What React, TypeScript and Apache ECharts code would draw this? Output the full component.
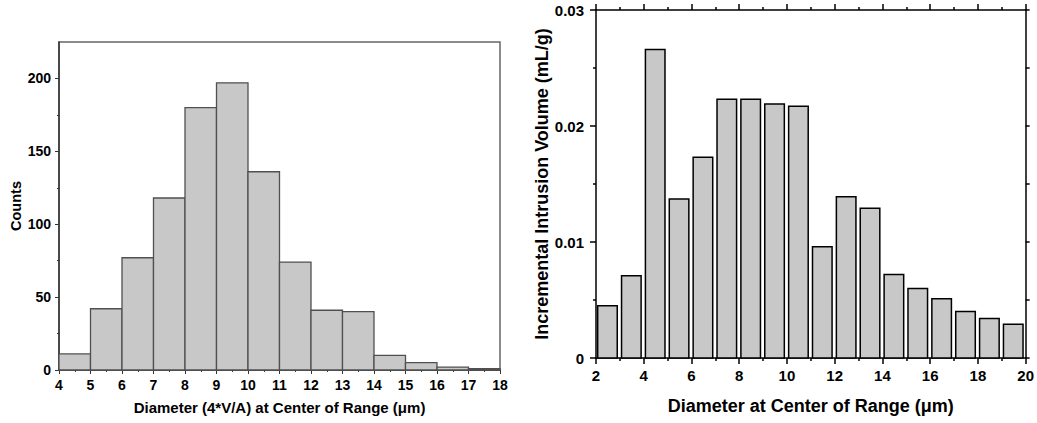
import React, { useEffect, useRef } from "react";
import * as echarts from "echarts";

// Left histogram: bin edges and counts
const leftBinStarts = [4, 5, 6, 7, 8, 9, 10, 11, 12, 13, 14, 15, 16, 17];
const leftCounts = [11, 42, 77, 118, 180, 197, 136, 74, 41, 40, 10, 5, 2, 1];
const leftYMajor = [0, 50, 100, 150, 200];
const leftYMinor = [25, 75, 125, 175];

// Right chart: bin starts and incremental intrusion volumes
const rightBinStarts = [2, 3, 4, 5, 6, 7, 8, 9, 10, 11, 12, 13, 14, 15, 16, 17, 18, 19];
const rightVolumes = [
  0.0045, 0.0071, 0.0266, 0.0137, 0.0173, 0.0223, 0.0223, 0.0219, 0.0217,
  0.0096, 0.0139, 0.0129, 0.0072, 0.006, 0.0051, 0.004, 0.0034, 0.0029,
];

const FONT = "Liberation Sans";

export default function App() {
  const ref = useRef<HTMLDivElement>(null);
  useEffect(() => {
    if (!ref.current) return;
    const chart = echarts.init(ref.current, undefined, { renderer: "svg" });
    const leftData = leftBinStarts.map((s, i) => [s, s + 1, leftCounts[i]]);
    const rightData = rightBinStarts.map((s, i) => [s + 0.07, s + 0.89, rightVolumes[i]]);
    const lbl = (size: number) => ({
      color: "#000",
      fontFamily: FONT,
      fontWeight: "bold" as const,
      fontSize: size,
    });
    const rectItem = (fill: string, stroke: string, lw: number) => (params: any, api: any) => {
      const p0 = api.coord([api.value(0), 0]);
      const p1 = api.coord([api.value(1), api.value(2)]);
      return {
        type: "rect",
        shape: { x: p0[0], y: p1[1], width: p1[0] - p0[0], height: p0[1] - p1[1] },
        style: { fill, stroke, lineWidth: lw },
      };
    };
    const blackLine = { show: true, onZero: false, lineStyle: { color: "#000", width: 1.5 } };
    const blackTick = (len: number) => ({ show: true, inside: false, length: len, lineStyle: { color: "#000", width: 1.5 } });
    chart.setOption({
      animation: false,
      grid: [
        { left: 59, right: 537, top: 42, bottom: 53, show: true, borderColor: "#666", borderWidth: 1.5, backgroundColor: "transparent" },
        { left: 596, right: 8, top: 10, bottom: 65 },
      ],
      xAxis: [
        {
          gridIndex: 0, type: "value", position: "bottom", min: 4, max: 18, interval: 1,
          axisLine: { show: true, onZero: false, lineStyle: { color: "#333", width: 1.5 } },
          axisTick: { show: true, inside: false, length: 4, lineStyle: { color: "#333" } },
          minorTick: { show: true, splitNumber: 2, length: 2, lineStyle: { color: "#333" } },
          splitLine: { show: false },
          axisLabel: { ...lbl(14), margin: 8 },
          name: "Diameter (4*V/A) at Center of Range (\u03bcm)", nameLocation: "middle", nameGap: 30,
          nameTextStyle: lbl(15),
        },
        {
          gridIndex: 1, type: "value", position: "bottom", min: 2, max: 20, interval: 2,
          axisLine: blackLine,
          axisTick: blackTick(6),
          minorTick: { show: true, splitNumber: 2, length: 3, lineStyle: { color: "#000", width: 1.5 } },
          splitLine: { show: false },
          axisLabel: { ...lbl(15), margin: 10 },
          name: "Diameter at Center of Range (\u03bcm)", nameLocation: "middle", nameGap: 39,
          nameTextStyle: lbl(18),
        },
        {
          gridIndex: 1, type: "value", position: "top", min: 2, max: 20, interval: 2,
          axisLine: blackLine,
          axisTick: blackTick(6),
          minorTick: { show: true, splitNumber: 2, length: 3, lineStyle: { color: "#000", width: 1.5 } },
          splitLine: { show: false },
          axisLabel: { show: false },
        },
      ],
      yAxis: [
        {
          gridIndex: 0, type: "value", position: "left", min: 0, max: 225, interval: 25,
          axisLine: { show: true, onZero: false, lineStyle: { color: "#333", width: 1.5 } },
          axisTick: { show: true, inside: false, length: 4, customValues: leftYMajor, lineStyle: { color: "#333" } },
          splitLine: { show: false },
          axisLabel: { ...lbl(14), margin: 8, customValues: leftYMajor },
          name: "Counts", nameLocation: "middle", nameGap: 35,
          nameTextStyle: lbl(14.5),
        },
        {
          gridIndex: 0, type: "value", position: "left", min: 0, max: 225, interval: 25,
          axisLine: { show: false, onZero: false },
          axisTick: { show: true, inside: false, length: 2, customValues: leftYMinor, lineStyle: { color: "#333" } },
          splitLine: { show: false },
          axisLabel: { show: false },
        },
        {
          gridIndex: 1, type: "value", position: "left", min: 0, max: 0.03, interval: 0.01,
          axisLine: blackLine,
          axisTick: blackTick(6),
          minorTick: { show: true, splitNumber: 2, length: 3, lineStyle: { color: "#000", width: 1.5 } },
          splitLine: { show: false },
          axisLabel: { ...lbl(15), margin: 12 },
          name: "Incremental Intrusion Volume (mL/g)", nameLocation: "middle", nameGap: 44,
          nameTextStyle: lbl(18),
        },
        {
          gridIndex: 1, type: "value", position: "right", min: 0, max: 0.03, interval: 0.01,
          axisLine: blackLine,
          axisTick: blackTick(4),
          minorTick: { show: true, splitNumber: 2, length: 4, lineStyle: { color: "#000", width: 1.5 } },
          splitLine: { show: false },
          axisLabel: { show: false },
        },
      ],
      series: [
        {
          type: "custom", xAxisIndex: 0, yAxisIndex: 0,
          encode: { x: [0, 1], y: 2 },
          data: leftData,
          renderItem: rectItem("#c8c8c8", "#505050", 1.3),
        },
        {
          type: "custom", xAxisIndex: 1, yAxisIndex: 2,
          encode: { x: [0, 1], y: 2 },
          data: rightData,
          renderItem: rectItem("#c8c8c8", "#000", 1.5),
        },
      ],
    });
    return () => chart.dispose();
  }, []);
  return (
    <div
      ref={ref}
      style={{ position: "fixed", left: 0, top: 0, width: 1037, height: 423, background: "#fff" }}
    />
  );
}
